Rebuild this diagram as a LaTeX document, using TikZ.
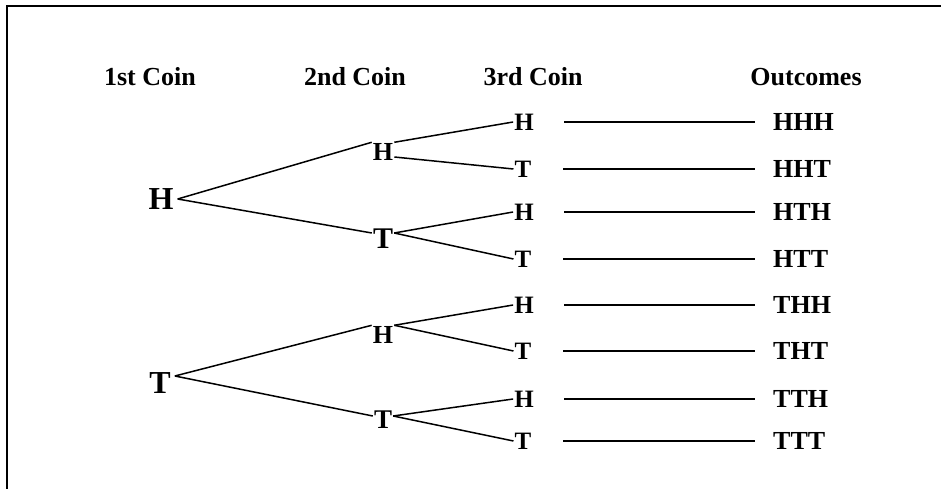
\documentclass[tikz,border=0pt]{standalone}
\usepackage{fontspec}
\setmainfont{Liberation Serif}
\usepackage{tikz}

\begin{document}
\begin{tikzpicture}[x=1pt, y=-1pt,
			coinhead/.style={font=\bfseries\fontsize{26}{30}\selectfont, inner sep=1pt},
			coinA/.style={font=\bfseries\fontsize{32}{36}\selectfont, inner sep=4pt},
			coinB/.style={font=\bfseries\fontsize{26}{30}\selectfont, inner sep=1pt},
			coinC/.style={font=\bfseries\fontsize{25}{29}\selectfont, inner sep=1pt},
			result/.style={font=\bfseries\fontsize{26}{30}\selectfont, inner sep=1pt, anchor=west},
			branch/.style={line width=1.5pt},
			resline/.style={line width=1.6pt, shorten <=40pt, shorten >=17pt},
			border/.style={line width=2pt}]
			\useasboundingbox (0,0) rectangle (941,489);
			\draw[border] (941,6) -- (6.5,6) -- (6.5,489);
			
			\node[coinhead] (c1) at (150,77) {1st Coin};
			\node[coinhead] (c2) at (355,77) {2nd Coin};
			\node[coinhead] (c3) at (533,77) {3rd Coin};
			\node[coinhead] (c4) at (806,77) {Outcomes};
			
			\node[coinA] (H) at (161,199) {H};
			\node[coinA] (T) at (160,383) {T};
			
			\node[coinB] (HH) at (383,152) {H};
			\node[coinB, font=\bfseries\fontsize{30}{34}\selectfont] (HT) at (383,239) {T};
			\node[coinB] (TH) at (383,335) {H};
			\node[coinB, font=\bfseries\fontsize{27}{31}\selectfont] (TT) at (383,420) {T};
			
			\node[coinC] (HHH) at (524,122) {H};
			\node[coinC] (HHT) at (523,169) {T};
			\node[coinC] (HTH) at (524,212) {H};
			\node[coinC] (HTT) at (523,259) {T};
			\node[coinC] (THH) at (524,305) {H};
			\node[coinC] (THT) at (523,351) {T};
			\node[coinC] (TTH) at (524,399) {H};
			\node[coinC] (TTT) at (523,441) {T};
			
			\node[result] (oHHH) at (772,122) {HHH};
			\node[result] (oHHT) at (772,169) {HHT};
			\node[result] (oHTH) at (772,212) {HTH};
			\node[result] (oHTT) at (772,259) {HTT};
			\node[result] (oTHH) at (772,305) {THH};
			\node[result] (oTHT) at (772,351) {THT};
			\node[result] (oTTH) at (772,399) {TTH};
			\node[result] (oTTT) at (772,441) {TTT};
			
			% first toss to second toss
			\draw[branch] (H.east) -- (HH.north west);
			\draw[branch] (H.east) -- ([yshift=6pt]HT.west);
			\draw[branch] ([yshift=7pt]T.east) -- (TH.north west);
			\draw[branch] ([yshift=7pt]T.east) -- ([yshift=4pt]TT.west);
			
			% second toss to third toss
			\draw[branch] (HH.north east) -- (HHH.west);
			\draw[branch] ([yshift=-5pt]HH.east) -- (HHT.west);
			\draw[branch] ([yshift=6pt]HT.east) -- (HTH.west);
			\draw[branch] ([yshift=6pt]HT.east) -- (HTT.west);
			\draw[branch] (TH.north east) -- (THH.west);
			\draw[branch] (TH.north east) -- (THT.west);
			\draw[branch] ([yshift=4pt]TT.east) -- (TTH.west);
			\draw[branch] ([yshift=4pt]TT.east) -- (TTT.west);
			
			\draw[resline] (HHH.center) -- (oHHH.west);
			\draw[resline] (HHT.center) -- (oHHT.west);
			\draw[resline] (HTH.center) -- (oHTH.west);
			\draw[resline] (HTT.center) -- (oHTT.west);
			\draw[resline] (THH.center) -- (oTHH.west);
			\draw[resline] (THT.center) -- (oTHT.west);
			\draw[resline] (TTH.center) -- (oTTH.west);
			\draw[resline] (TTT.center) -- (oTTT.west);
		\end{tikzpicture}
\end{document}
